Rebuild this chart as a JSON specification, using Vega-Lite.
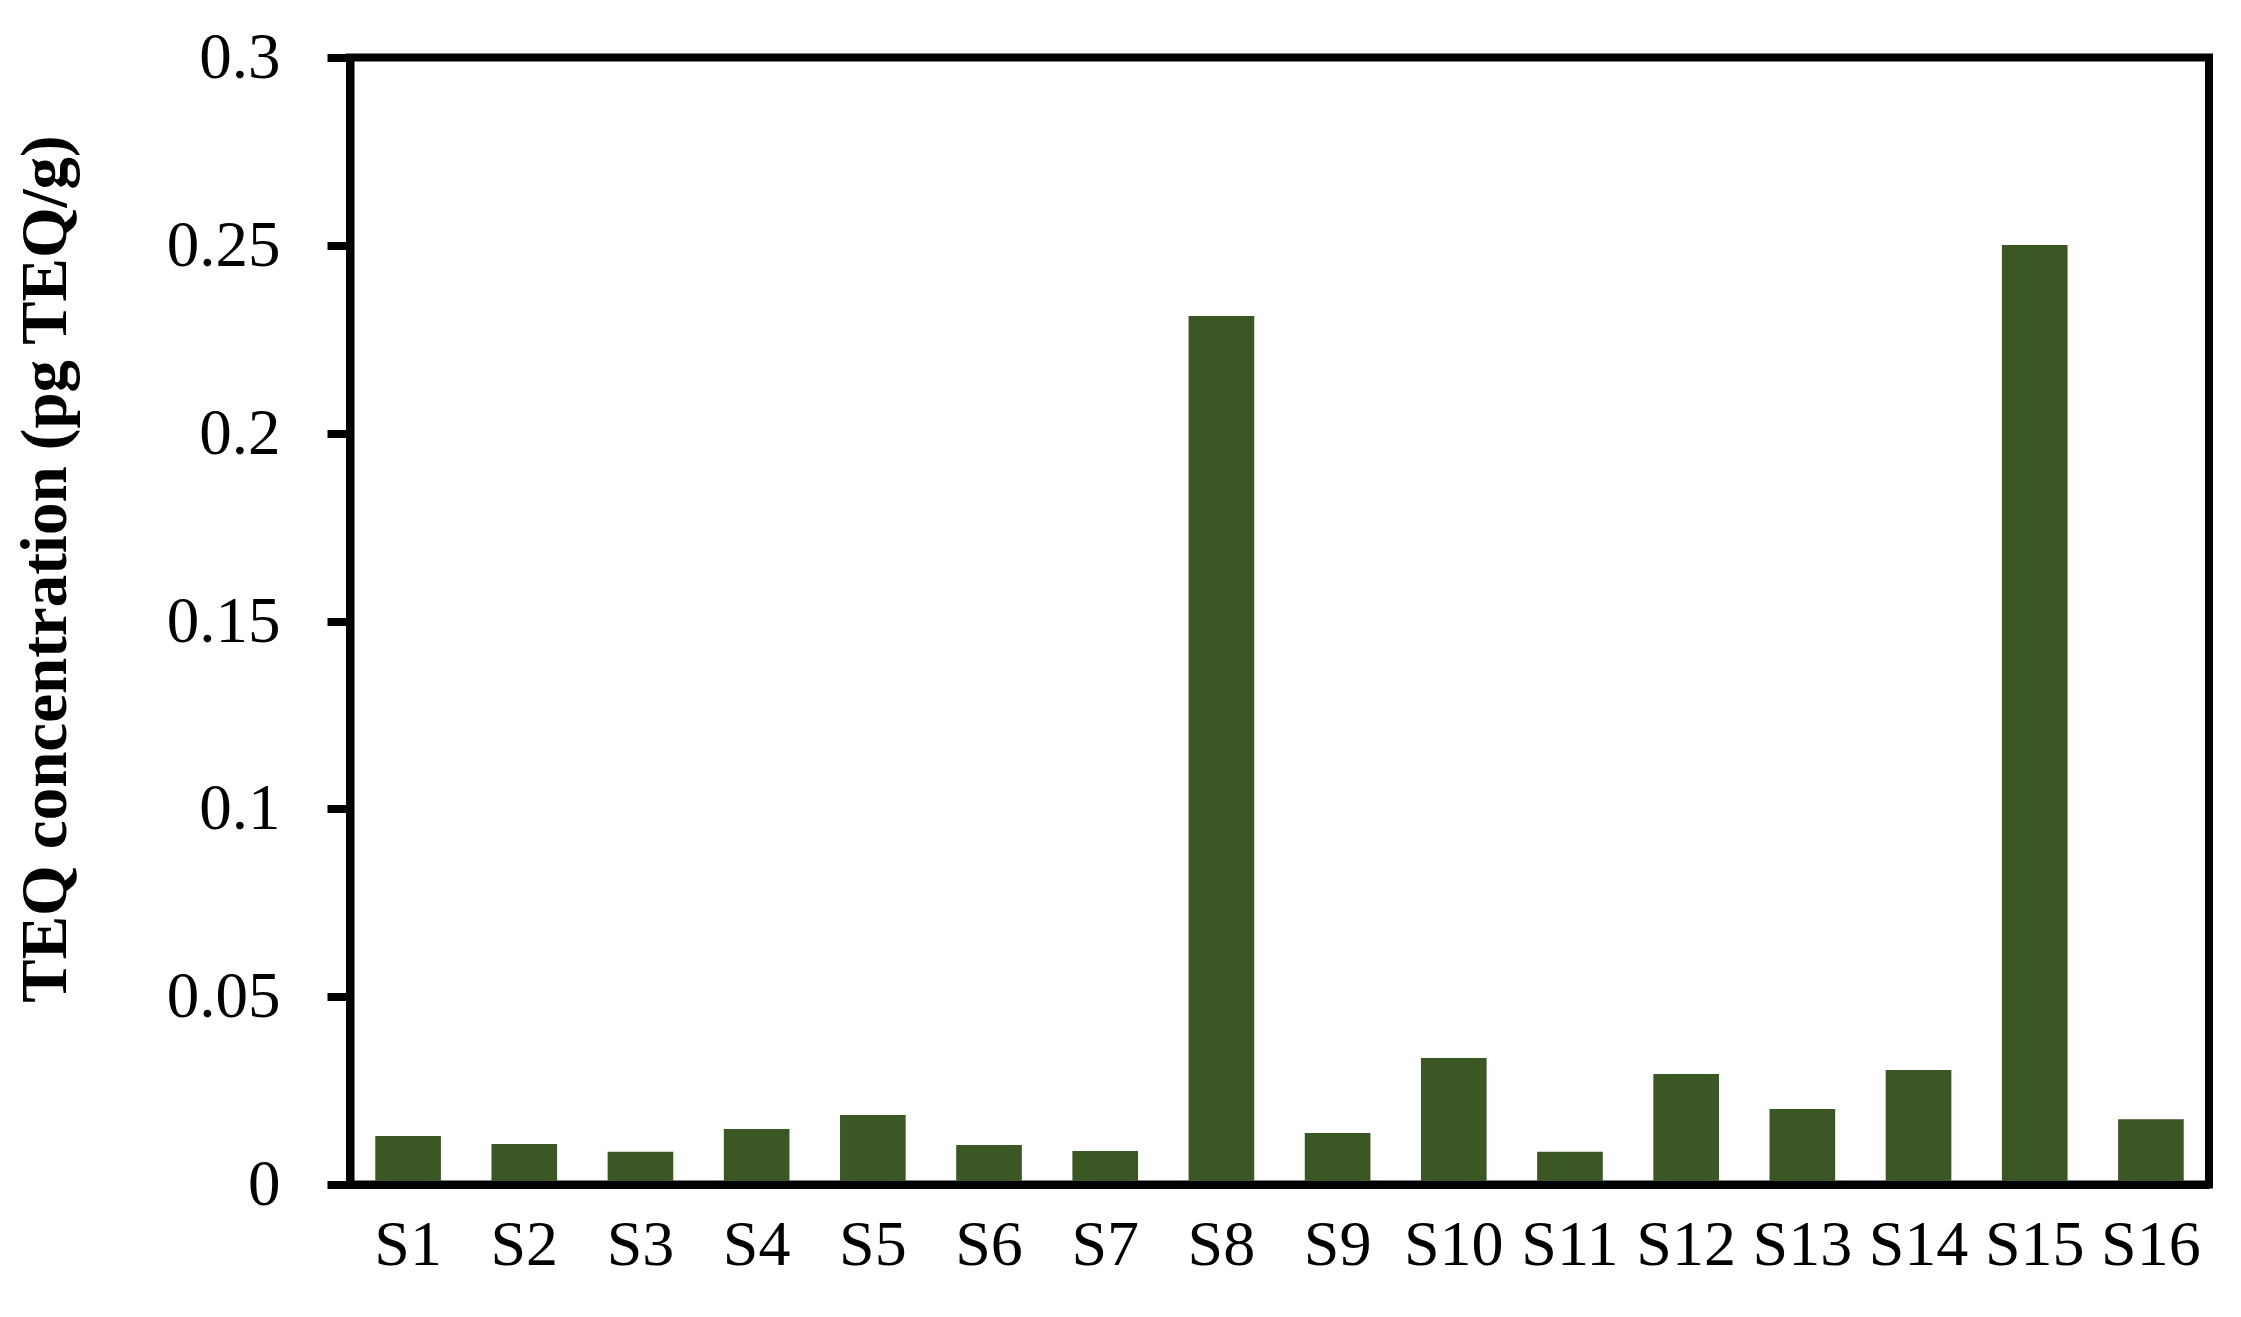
{
  "$schema": "https://vega.github.io/schema/vega-lite/v6.json",
  "autosize": {"type": "none"},
  "padding": {"left": 350, "top": 57.5, "right": 32, "bottom": 132.5},
  "width": 1859,
  "height": 1127,
  "background": "white",
  "config": {
    "view": {"stroke": "black", "strokeWidth": 8},
    "font": "Liberation Serif"
  },
  "data": {
    "values": [
      {"site": "S1", "teq": 0.0129},
      {"site": "S2", "teq": 0.0108},
      {"site": "S3", "teq": 0.0087},
      {"site": "S4", "teq": 0.0148},
      {"site": "S5", "teq": 0.0185},
      {"site": "S6", "teq": 0.0105},
      {"site": "S7", "teq": 0.0089},
      {"site": "S8", "teq": 0.2312},
      {"site": "S9", "teq": 0.0137},
      {"site": "S10", "teq": 0.0337},
      {"site": "S11", "teq": 0.0087},
      {"site": "S12", "teq": 0.0294},
      {"site": "S13", "teq": 0.0201},
      {"site": "S14", "teq": 0.0305},
      {"site": "S15", "teq": 0.2501},
      {"site": "S16", "teq": 0.0174}
    ]
  },
  "mark": {"type": "bar", "color": "#3B5724"},
  "encoding": {
    "x": {
      "field": "site",
      "type": "nominal",
      "sort": null,
      "scale": {"paddingInner": 0.435, "paddingOuter": 0.2175},
      "axis": {
        "title": null,
        "labelAngle": 0,
        "labelFont": "Liberation Serif",
        "labelFontSize": 64,
        "labelColor": "black",
        "labelPadding": 29,
        "ticks": false,
        "tickSize": 0,
        "domain": true,
        "domainColor": "black",
        "domainWidth": 8,
        "zindex": 1
      }
    },
    "y": {
      "field": "teq",
      "type": "quantitative",
      "scale": {"domain": [0, 0.3], "nice": false, "zero": true},
      "axis": {
        "title": "TEQ concentration (pg TEQ/g)",
        "titleFont": "Liberation Serif",
        "titleFontSize": 65,
        "titleFontWeight": "bold",
        "titleColor": "black",
        "titleAngle": -90,
        "titleAlign": "center",
        "titleBaseline": "alphabetic",
        "titleX": -285,
        "titleY": 511,
        "values": [0, 0.05, 0.1, 0.15, 0.2, 0.25, 0.3],
        "format": "~g",
        "labelFont": "Liberation Serif",
        "labelFontSize": 65,
        "labelColor": "black",
        "labelPadding": 47,
        "ticks": true,
        "tickSize": 23,
        "tickWidth": 8,
        "tickColor": "black",
        "domain": true,
        "domainColor": "black",
        "domainWidth": 8,
        "grid": false,
        "zindex": 1
      }
    }
  }
}
